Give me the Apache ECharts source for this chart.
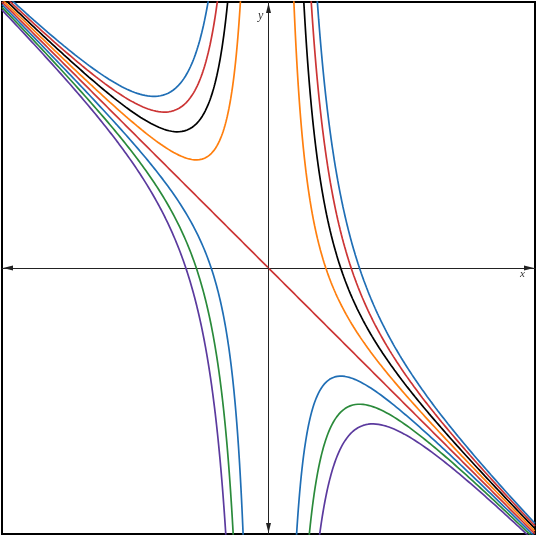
<!DOCTYPE html>
<html>
<head>
<meta charset="utf-8">
<script src="https://cdn.jsdelivr.net/npm/echarts@6/dist/echarts.min.js"></script>
<style>
  html, body { margin: 0; padding: 0; background: #fff; }
  #chart { width: 538px; height: 537px; }
</style>
</head>
<body>
<div id="chart"></div>
<script>
  // curve family y = -x + a / x^2, one curve per coefficient
  const coefficients = [4, 3, 2, 1, 0, -1, -2, -3]
  const curveColors = ['#1f6eb5', '#cc3535', '#000000', '#ff7f0e', '#cc3535', '#1f6eb5', '#2a8a3a', '#5b3a9e']
  const axisRange = [-4.65, 4.65]
  const step = 0.005

  function curveData(a) {
    const res = []
    const n = Math.round((axisRange[1] - axisRange[0]) / step)
    let broke = false
    for (let i = 0; i <= n; i++) {
      const x = axisRange[0] + i * step
      if (Math.abs(x) < 1e-9) {
        res.push([0, null])
        broke = true
        continue
      }
      if (a === 0) {
        res.push([x, -x])
        continue
      }
      const y = -x + a / (x * x)
      if (Math.abs(y) > 60) {
        if (!broke) { res.push([x, null]); broke = true }
        continue
      }
      broke = false
      res.push([x, y])
    }
    return res
  }

  const chart = echarts.init(document.getElementById('chart'))

  const axisLine = {
    onZero: true,
    symbol: ['triangle', 'triangle'],
    symbolSize: [5, 10],
    symbolOffset: [6, -6],
    lineStyle: { color: '#222', width: 1 }
  }

  chart.setOption({
    animation: false,
    grid: {
      left: 2, right: 3, top: 2, bottom: 3,
      show: true,
      borderColor: '#000',
      borderWidth: 2,
      backgroundColor: '#fff'
    },
    xAxis: {
      type: 'value',
      min: axisRange[0],
      max: axisRange[1],
      axisLine: axisLine,
      axisTick: { show: false },
      axisLabel: { show: false },
      splitLine: { show: false }
    },
    yAxis: {
      type: 'value',
      min: axisRange[0],
      max: axisRange[1],
      axisLine: axisLine,
      axisTick: { show: false },
      axisLabel: { show: false },
      splitLine: { show: false }
    },
    graphic: [
      { type: 'text', left: 520, top: 269, style: { text: 'x', font: 'italic 11px "Liberation Serif"', fill: '#333' } },
      { type: 'text', left: 258, top: 10, style: { text: 'y', font: 'italic 12px "Liberation Serif"', fill: '#333' } }
    ],
    series: coefficients.map((a, i) => ({
      type: 'line',
      data: curveData(a),
      showSymbol: false,
      connectNulls: false,
      clip: true,
      silent: true,
      lineStyle: { color: curveColors[i], width: 1.7 }
    }))
  })
</script>
</body>
</html>
